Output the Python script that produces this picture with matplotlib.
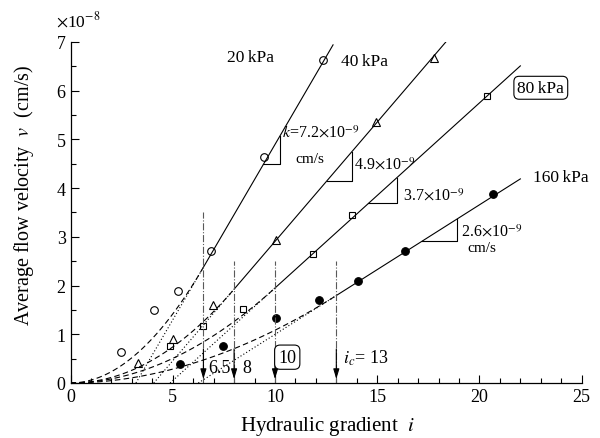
import numpy as np
import matplotlib
matplotlib.use("Agg")
from matplotlib import pyplot as plt
from matplotlib.ticker import MultipleLocator

plt.rcParams['font.family'] = ['Liberation Serif', 'DejaVu Serif']
plt.rcParams['mathtext.fontset'] = 'stix'

# measured points (v in 1e-8 cm/s)
i20 = [2.47, 4.07, 5.26, 6.86, 9.47, 12.35]
v20 = [0.64, 1.50, 1.88, 2.70, 4.64, 6.64]
i40 = [3.32, 5.03, 6.96, 10.04, 14.95, 17.77]
v40 = [0.41, 0.90, 1.60, 2.94, 5.35, 6.68]
i80 = [4.87, 6.47, 8.46, 11.88, 13.76, 20.39]
v80 = [0.76, 1.18, 1.52, 2.65, 3.45, 5.90]
i160 = [5.36, 7.45, 10.05, 12.16, 14.05, 16.37, 20.65]
v160 = [0.40, 0.75, 1.33, 1.70, 2.09, 2.70, 3.87]

# linear fits above the critical gradient
slope = [0.72, 0.49, 0.38, 0.266]
icept = [3.2, 4.07, 4.87, 6.25]
ic = [6.5, 8, 10, 13]
iend = [12.84, 18.4, 22, 22]
vline_top = [3.5, 2.5, 2.5, 2.5]

pressures = ['20kPa', '40kPa', '80kPa', '160kPa']
k_labels = ['7.2', '4.9', '3.7', '2.6']

fig = plt.figure(figsize=(6, 4.39), dpi=100)
ax = fig.add_axes([0.1175, 0.1253, 0.852, 0.7768])

mk = dict(color='k', linestyle='none', markersize=5.5, markeredgewidth=0.8)
ax.plot(i20, v20, marker='o', markerfacecolor='none', **mk)
ax.plot(i40, v40, marker='^', markerfacecolor='none', **mk)
ax.plot(i80, v80, marker='s', markerfacecolor='none', markersize=5, color='k',
        linestyle='none', markeredgewidth=0.8)
ax.plot(i160, v160, marker='o', markerfacecolor='k', **mk)

tri_x0 = [9.43, 12.53, 14.57, 17.18]
tri_dx = [0.82, 1.23, 1.39, 1.74]

for k, c, a, e in zip(slope, icept, ic, iend):
    # solid fit line
    xs = np.array([a, e])
    ax.plot(xs, k * (xs - c), color='k', lw=0.8)
    # dotted extension to v=0
    xd = np.array([c, a])
    ax.plot(xd, k * (xd - c), color='k', lw=0.8, linestyle=(0, (1, 2)))
    # dashed nonlinear part
    vc = k * (a - c)
    n = k * a / vc
    xc = np.linspace(0, a, 80)
    ax.plot(xc, vc * (xc / a) ** n, color='k', lw=0.8, linestyle=(0, (5, 3)))

for k, c, x0, dx in zip(slope, icept, tri_x0, tri_dx):
    y0 = k * (x0 - c)
    y1 = k * (x0 + dx - c)
    ax.plot([x0, x0 + dx, x0 + dx], [y0, y0, y1], color='k', lw=0.8)

for a, top in zip(ic, vline_top):
    ax.plot([a, a], [0, top], color='0.35', lw=0.8, linestyle='-.')
    ax.annotate('', xy=(a, 0.08), xytext=(a, 0.7),
                arrowprops=dict(arrowstyle='-|>,head_width=0.18,head_length=0.6',
                                color='k', lw=0.8, shrinkA=0, shrinkB=0))

fs = 12.5
ax.text(8.8, 6.7, '20\u2009kPa', fontsize=fs, ha='center', va='center')
ax.text(14.4, 6.6, '40\u2009kPa', fontsize=fs, ha='center', va='center')
ax.text(23.0, 6.06, '80\u2009kPa', fontsize=fs, ha='center', va='center',
        bbox=dict(boxstyle='round,pad=0.2,rounding_size=0.3', fc='white', ec='k', lw=0.8))
ax.text(24.0, 4.23, '160\u2009kPa', fontsize=fs, ha='center', va='center')

ax.text(10.35, 5.15, r'$k$=' + k_labels[0] + '$\\times$10$^{-9}$', fontsize=11.5, ha='left', va='center')
ax.text(11.7, 4.6, 'cm/s', fontsize=11, ha='center', va='center')
ax.text(13.85, 4.48, k_labels[1] + '$\\times$10$^{-9}$', fontsize=11.5, ha='left', va='center')
ax.text(16.25, 3.84, k_labels[2] + '$\\times$10$^{-9}$', fontsize=11.5, ha='left', va='center')
ax.text(19.1, 3.12, k_labels[3] + '$\\times$10$^{-9}$', fontsize=11.5, ha='left', va='center')
ax.text(20.1, 2.79, 'cm/s', fontsize=11, ha='center', va='center')

ax.text(7.3, 0.31, '6.5', fontsize=13, ha='center', va='center')
ax.text(8.6, 0.31, '8', fontsize=13, ha='center', va='center')
ax.text(10.6, 0.53, '10', fontsize=13, ha='center', va='center',
        bbox=dict(boxstyle='round,pad=0.2,rounding_size=0.3', fc='white', ec='k', lw=0.8))
ax.text(13.35, 0.53, r'$i_c$= 13', fontsize=13, ha='left', va='center')

ax.set_xlim(0, 25)
ax.set_ylim(0, 7)
ax.xaxis.set_major_locator(MultipleLocator(5))
ax.xaxis.set_minor_locator(MultipleLocator(1))
ax.yaxis.set_major_locator(MultipleLocator(1))
ax.yaxis.set_minor_locator(MultipleLocator(0.5))
ax.tick_params(which='both', direction='in', width=0.8, labelsize=13)
ax.tick_params(which='major', length=6)
ax.tick_params(which='minor', length=3.5)
for s in ['top', 'right']:
    ax.spines[s].set_visible(False)
for s in ['left', 'bottom']:
    ax.spines[s].set_linewidth(0.9)

ax.set_xlabel(r'Hydraulic gradient  $i$', fontsize=15)
ax.set_ylabel(r'Average flow velocity  $v$  (cm/s)', fontsize=14.5)
ax.xaxis.set_label_coords(0.502, -0.092)
ax.yaxis.set_label_coords(-0.068, 0.554)
ax.text(-0.029, 1.035, r'$\times$10$^{-8}$', transform=ax.transAxes, fontsize=12.5,
        ha='left', va='bottom')

fig.savefig('out.png', dpi=100)
